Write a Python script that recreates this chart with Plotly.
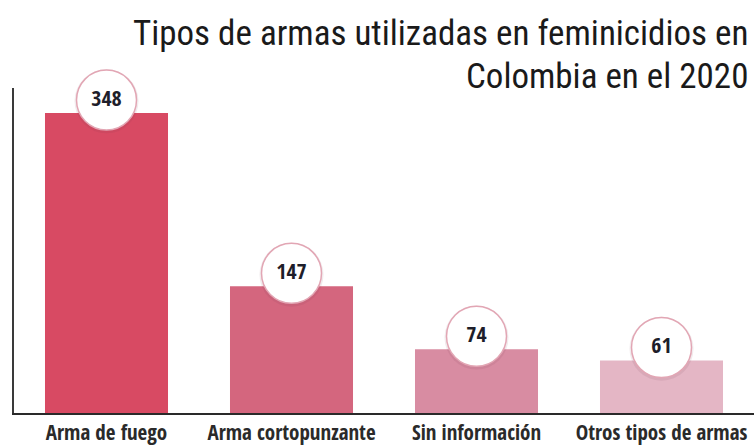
import plotly.graph_objects as go

categories = ["Arma de fuego", "Arma cortopunzante", "Sin información", "Otros tipos de armas"]
values = [348, 147, 74, 61]
bar_colors = ["#d84a63", "#d4667e", "#d88ca2", "#e4b6c5"]
label_texts = [str(v) for v in values]

title_line1 = "Tipos de armas utilizadas en feminicidios en"
title_line2 = "Colombia en el 2020"

TITLE_FONT = "Roboto Condensed, Open Sans Condensed, DejaVu Sans Condensed, sans-serif"
BOLD_FONT = "Open Sans Condensed, Roboto Condensed, DejaVu Sans Condensed, sans-serif"
CIRCLE_OFFSET = 15  # data units above bar top

fig = go.Figure()
fig.add_trace(go.Bar(
    x=categories, y=values,
    marker=dict(color=bar_colors, line=dict(width=0)),
    hoverinfo="skip",
))
# soft shadows of circles
fig.add_trace(go.Scatter(
    x=categories, y=[v + CIRCLE_OFFSET - 1.5 for v in values],
    mode="markers",
    marker=dict(size=64, color="rgba(120,60,80,0.10)", line=dict(width=0)),
    hoverinfo="skip", cliponaxis=False,
))
fig.add_trace(go.Scatter(
    x=categories, y=[v + CIRCLE_OFFSET for v in values],
    mode="markers+text",
    text=label_texts,
    textposition="middle center",
    textfont=dict(family=BOLD_FONT, size=22, color="#1e1e2a"),
    marker=dict(size=60, color="white", line=dict(width=1.5, color="#e2a6b4")),
    hoverinfo="skip", cliponaxis=False,
))

fig.add_annotation(
    text=title_line1,
    xref="paper", yref="paper", x=1.0, y=1.169,
    xanchor="right", yanchor="middle", align="right", xshift=-4,
    showarrow=False,
    font=dict(family=TITLE_FONT, size=35, color="#1a1a1a"),
)
fig.add_annotation(
    text=title_line2,
    xref="paper", yref="paper", x=1.0, y=1.034,
    xanchor="right", yanchor="middle", align="right", xshift=-4,
    showarrow=False,
    font=dict(family=TITLE_FONT, size=35, color="#1a1a1a"),
)

fig.update_layout(
    width=754, height=447,
    margin=dict(l=14, r=0, t=88, b=34),
    paper_bgcolor="white", plot_bgcolor="white",
    showlegend=False,
    bargap=0.335,
    xaxis=dict(
        showgrid=False, showline=True, linecolor="#2a2a2a", linewidth=2,
        ticks="", tickfont=dict(family=BOLD_FONT, size=21, color="#2a2a2a"),
        fixedrange=True,
    ),
    yaxis=dict(
        range=[0, 377], showgrid=False, zeroline=False,
        showline=True, linecolor="#3a3a3a", linewidth=2,
        showticklabels=False, ticks="", fixedrange=True,
    ),
)

fig.write_html("out.html", config={"displayModeBar": False},
               post_script="document.body.style.margin='0';document.body.style.padding='0';")
